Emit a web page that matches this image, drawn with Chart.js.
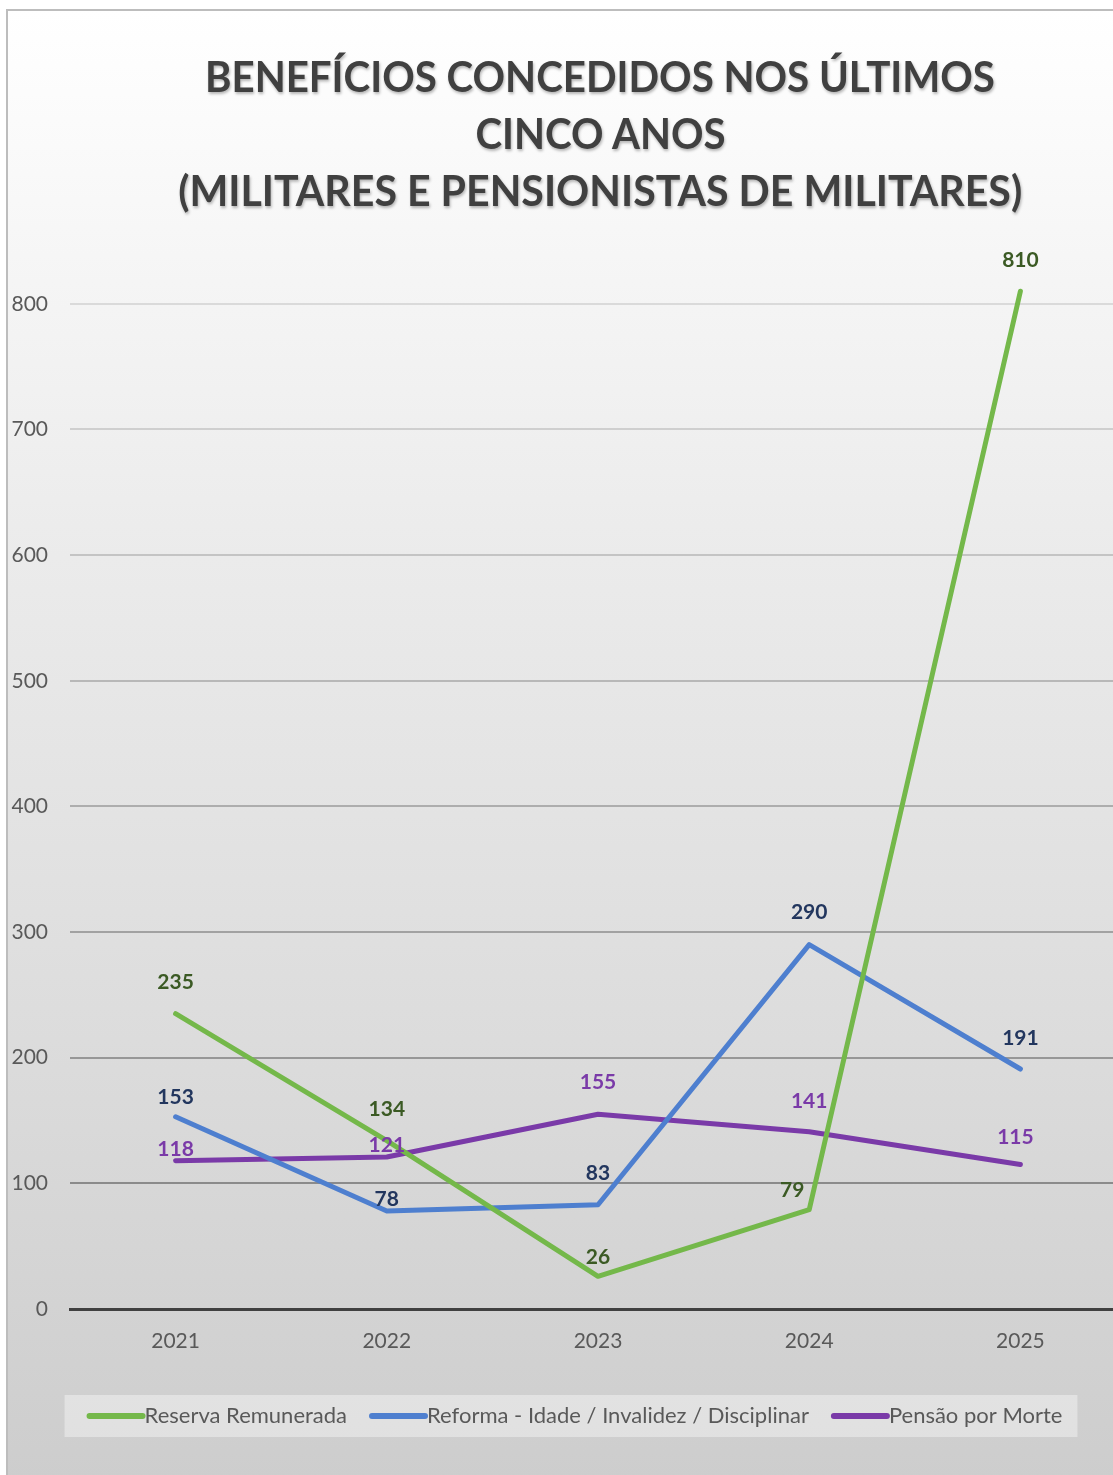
<!DOCTYPE html>
<html>
<head>
<meta charset="utf-8">
<script src="https://cdn.jsdelivr.net/npm/chart.js@4.4.1/dist/chart.umd.min.js"></script>
<style>
  html, body { margin: 0; padding: 0; width: 1113px; height: 1475px; overflow: hidden; background: #fff; }
  #frame {
    position: absolute; left: 6px; top: 9px; width: 1200px; height: 1470px;
    border-left: 2px solid #bdbdbd; border-top: 2px solid #bdbdbd;
    background: linear-gradient(#ffffff 0%, #ececec 35%, #dcdcdc 70%, #cdcdcd 100%);
  }
  #wrap { position: absolute; left: 7px; top: 10px; width: 1126px; height: 1465px; }
  #title {
    position: absolute; left: 0; top: 48px; width: 1200px; text-align: center;
    font: bold 42px Lato, "Open Sans", sans-serif; line-height: 57px; color: #404040;
    text-shadow: 1px 2px 3px rgba(0,0,0,0.28);
  }
  #title span { display: inline-block; white-space: nowrap; transform-origin: 50% 50%; }
</style>
</head>
<body>
<div id="frame"></div>
<div id="wrap"><canvas id="chart" width="1126" height="1465"></canvas></div>
<div id="title">
  <span>BENEFÍCIOS CONCEDIDOS NOS ÚLTIMOS</span><br>
  <span>CINCO ANOS</span><br>
  <span>(MILITARES E PENSIONISTAS DE MILITARES)</span>
</div>
<script>
const years = ["2021", "2022", "2023", "2024", "2025"];
const reserva = [235, 134, 26, 79, 810];
const reforma = [153, 78, 83, 290, 191];
const pensao = [118, 121, 155, 141, 115];
const yTicks = [0, 100, 200, 300, 400, 500, 600, 700, 800];

// title: squeeze Lato to the narrow look of the original, line by line
(function fitTitle() {
  const targets = [790, 250, 844];
  document.querySelectorAll("#title span").forEach((s, i) => {
    const w = s.getBoundingClientRect().width;
    s.style.transform = `scaleX(${targets[i] / w})`;
  });
})();

function gridColor(v) {
  if (v === 0) return "rgba(0,0,0,0)";
  const g = Math.round(128 + (v / 800) * 90);
  return `rgb(${g},${g},${g})`;
}

const valueLabels = {
  id: "valueLabels",
  afterDatasetsDraw(chart) {
    const ctx = chart.ctx;
    ctx.save();
    ctx.font = "bold 21px Lato, 'Open Sans', sans-serif";
    ctx.textAlign = "center";
    ctx.textBaseline = "middle";
    chart.data.datasets.forEach((ds, i) => {
      const meta = chart.getDatasetMeta(i);
      meta.data.forEach((pt, j) => {
        const lift = ds.labelLift ? ds.labelLift[j] : 31;
        const dx = ds.labelDx ? ds.labelDx[j] : 0;
        ctx.fillStyle = ds.labelColor;
        ctx.fillText(String(ds.data[j]), pt.x + dx, pt.y - lift);
      });
    });
    ctx.restore();
  }
};

// light panel behind the legend, and sample lines that run up to the text
const legendBox = {
  id: "legendBox",
  afterUpdate(chart) {
    // the original legend sits a little right of the canvas centre
    const lg = chart.legend;
    if (!lg) return;
    lg.left += 8;
    lg.right += 8;
    lg.legendHitBoxes.forEach((h) => { h.left += 8; });
  },
  beforeDraw(chart) {
    const lg = chart.legend;
    if (!lg || !lg.legendHitBoxes.length) return;
    const hb = lg.legendHitBoxes;
    const first = hb[0], last = hb[hb.length - 1];
    const ctx = chart.ctx;
    const cy = first.top + first.height / 2;
    ctx.save();
    ctx.fillStyle = "rgba(255,255,255,0.38)";
    ctx.fillRect(first.left - 22, cy - 21, last.left + last.width - first.left + 37, 42);
    ctx.restore();
  },
  afterDraw(chart) {
    const lg = chart.legend;
    if (!lg) return;
    const ctx = chart.ctx;
    const bw = lg.options.labels.boxWidth;
    ctx.save();
    ctx.lineCap = "round";
    ctx.lineWidth = 6;
    lg.legendHitBoxes.forEach((h, i) => {
      const cy = h.top + h.height / 2;
      ctx.strokeStyle = chart.data.datasets[i].borderColor;
      ctx.beginPath();
      ctx.moveTo(h.left + 3, cy);
      ctx.lineTo(h.left + bw + 9, cy);
      ctx.stroke();
    });
    ctx.restore();
  }
};

new Chart(document.getElementById("chart"), {
  type: "line",
  data: {
    labels: years,
    datasets: [
      {
        label: "Reserva Remunerada",
        data: reserva,
        borderColor: "#74b84a",
        backgroundColor: "#74b84a",
        labelColor: "#3b5a24",
        labelLift: [31, 31, 19, 20, 31],
        labelDx: [0, 0, 0, -17, 0]
      },
      {
        label: "Reforma - Idade / Invalidez / Disciplinar",
        data: reforma,
        borderColor: "#4e7fcf",
        backgroundColor: "#4e7fcf",
        labelColor: "#22365e",
        labelLift: [20, 12, 31, 32, 31]
      },
      {
        label: "Pensão por Morte",
        data: pensao,
        borderColor: "#7a3aa8",
        backgroundColor: "#7a3aa8",
        labelColor: "#7a3aa8",
        labelLift: [12, 12, 32, 31, 27],
        labelDx: [0, 0, 0, 0, -5]
      }
    ]
  },
  options: {
    responsive: false,
    animation: false,
    layout: { padding: { top: 231, right: 7, bottom: 38, left: 0 } },
    elements: {
      line: { borderWidth: 5, tension: 0, borderCapStyle: "round", borderJoinStyle: "round" },
      point: { radius: 0, hoverRadius: 0 }
    },
    plugins: {
      title: { display: false },
      tooltip: { enabled: false },
      legend: {
        position: "bottom",
        labels: {
          color: "#595959",
          font: { family: "Lato, 'Open Sans', sans-serif", size: 22 },
          boxWidth: 47,
          boxHeight: 6,
          padding: 22,
          generateLabels(chart) {
            return chart.data.datasets.map((ds, i) => ({
              text: ds.label,
              fillStyle: "rgba(0,0,0,0)",
              strokeStyle: "rgba(0,0,0,0)",
              lineWidth: 0,
              fontColor: "#595959",
              datasetIndex: i
            }));
          }
        }
      }
    },
    scales: {
      x: {
        offset: true,
        grid: { display: false, drawTicks: false },
        border: { display: true, color: "#404040", width: 3 },
        ticks: { color: "#595959", font: { family: "Lato, 'Open Sans', sans-serif", size: 21 }, padding: 20 },
        afterFit(scale) { scale.height = 74; }
      },
      y: {
        min: 0,
        max: 850,
        afterBuildTicks(scale) { scale.ticks = yTicks.map((v) => ({ value: v })); },
        grid: { color: (c) => gridColor(c.tick ? c.tick.value : 0), lineWidth: 2, drawTicks: false },
        border: { display: false },
        ticks: {
          color: "#595959",
          font: { family: "Lato, 'Open Sans', sans-serif", size: 21 },
          padding: 22
        },
        afterFit(scale) { scale.width = 63; }
      }
    }
  },
  plugins: [legendBox, valueLabels]
});
</script>
</body>
</html>
